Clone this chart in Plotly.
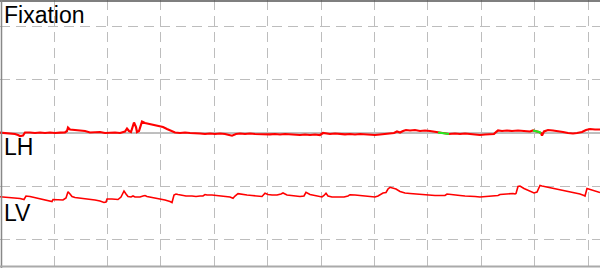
import plotly.graph_objects as go

# Horizontal eye position (LH) trace, x in samples (display units), y in display units (down = larger)
LH_x = [0, 5, 10, 15, 18, 20, 23, 25, 30, 35, 40, 45, 50, 55, 60, 65, 67, 68, 70, 75, 80, 85, 90, 95,
        100, 105, 110, 115, 120, 125, 127, 129, 131, 133, 134, 136, 137, 139, 141, 142, 145, 150, 155,
        160, 163, 167, 171, 175, 180, 185, 190, 195,
        200, 205, 210, 215, 220, 225, 228, 232, 236, 240, 245, 250, 255, 260, 265, 270, 275, 280, 285,
        290, 295, 300, 305, 310, 315, 320, 323, 327, 330, 335, 340, 345, 350, 355, 360, 365, 370, 375,
        380, 385, 390, 394, 397,
        400, 403, 406, 410, 415, 420, 425, 430, 435, 438, 442, 446, 449, 455, 460, 465, 470, 475, 480,
        485, 490, 494, 496, 498, 502, 507, 512, 518, 524, 530, 533, 536, 539, 541, 542, 544, 548, 553,
        558, 563, 568, 573, 577, 582, 586, 590, 595, 600]
LH_y = [132.7, 133, 133.5, 134, 135, 136, 135.5, 132.5, 132.5, 133, 132.5, 133, 132.5, 133, 132.7, 132.5,
        131, 127.5, 129.5, 130, 130.5, 131, 132.5, 132.5, 132, 133, 132.5, 132.5, 133, 131.5, 128.5, 131,
        132, 126, 122.5, 127, 132, 131, 125, 121.5, 123, 124, 125, 126, 127, 129, 131, 132.5, 133, 132.5,
        133, 133,
        133.5, 134, 133.5, 134, 133.5, 134, 135, 135.7, 134, 133.5, 134, 133.5, 134, 134.2, 133.8, 134.3,
        134, 134.5, 134, 134.5, 134.3, 135, 134.5, 135, 134.5, 135, 133, 133.5, 134, 133.5, 134, 134.3,
        134, 134.5, 134, 134.5, 134.3, 135, 134.5, 134, 133.5, 133, 131.5,
        132.5, 131, 130, 130.5, 130, 131, 130.5, 131, 132, 132.5, 133, 133.5, 134, 133.5, 134, 133.5, 134,
        134.5, 135, 134.5, 134, 134, 132, 130.5, 131, 130.5, 131, 130.5, 131, 131.5, 130.5, 131, 132,
        133, 135.5, 131.5, 130, 130.5, 131, 132, 133, 133.5, 133, 132, 130, 129, 129.5, 129.5]

# Samples flagged as fixation (drawn green)
FIX_ranges = [(438, 449), (533, 541)]

# Vertical eye position (LV) trace
LV_x = [0, 5, 10, 15, 20, 24, 25, 26, 30, 35, 40, 45, 50, 52, 53, 58, 63, 66, 68, 70, 72, 75, 80, 85,
        90, 95, 100, 104, 106, 107, 112, 118, 121, 124, 126, 128, 131, 133, 135, 140, 143, 145, 147,
        150, 155, 160, 165, 170, 172, 174, 176, 178, 182, 186, 192, 196,
        200, 203, 205, 207, 212, 218, 225, 230, 233, 235, 238, 242, 247, 252, 256, 260, 262, 265, 268,
        272, 277, 281, 283, 287, 292, 296, 300, 304, 306, 310, 315, 320, 322, 324, 326, 328, 332, 338,
        344, 348, 350, 355, 360, 365, 370, 375, 378, 381, 383, 386, 388, 390, 393, 396,
        400, 405, 410, 415, 420, 425, 430, 435, 440, 445, 447, 450, 455, 460, 465, 470, 475, 480, 485,
        490, 495, 498, 500, 505, 510, 513, 515, 516, 518, 520, 524, 528, 532, 534, 537, 540, 542, 547,
        553, 560, 568, 575, 580, 584, 585, 587, 590, 595, 600]
LV_y = [196.7, 197, 197.5, 198, 198.5, 199.5, 198, 196, 196.5, 197.5, 199, 200, 201, 201.5, 199.5, 199.5,
        200, 198, 191.7, 194, 196.5, 197.5, 198, 199, 199.5, 200, 201, 202.5, 202, 199, 199, 199.5, 197,
        191, 194, 196.5, 197, 196, 197, 197, 196, 195.5, 196.5, 197, 198, 199, 200, 201.5, 202.5, 195,
        194, 194.5, 195.5, 196, 196, 196.5,
        196, 196, 194.5, 195, 195, 195.5, 196, 197, 198.3, 196, 193.7, 194.5, 195, 195.5, 196, 197,
        196.5, 193.3, 194.5, 195, 195, 194, 193, 195, 195.5, 196, 196.5, 196, 192.3, 194.5, 195.5, 196.5,
        197, 195.5, 193.3, 196, 197, 197, 197, 196, 194.7, 195, 195.5, 196, 196.5, 197, 196, 194.5, 193,
        192.5, 189, 187.3, 188, 189,
        191.5, 193, 193.5, 194, 194.5, 195, 195.5, 195.5, 195.5, 195.5, 194, 194.5, 195, 195.5, 196, 196,
        196.5, 197, 196.5, 196.5, 196, 195.5, 194.5, 194, 194, 193.5, 194, 193.5, 186.5, 186, 188.5,
        190.5, 192.5, 193, 192, 185.5, 186, 187, 188, 189.5, 191, 192.5, 194, 195.5, 196, 188.5, 189.5,
        191, 192.5]

LABELS = ["Fixation", "LH", "LV"]
LABEL_Y = [0, 132, 198]

RED = "#ff0000"
GREEN = "#22ee22"

fig = go.Figure()
# LH baseline (solid gray)
fig.add_shape(type="line", xref="paper", x0=0, x1=1, yref="y", y0=133, y1=133,
              line=dict(color="#808080", width=1), layer="below")

fig.add_trace(go.Scatter(x=LH_x, y=LH_y, mode="lines", line=dict(color=RED, width=2.2),
                         hoverinfo="skip", showlegend=False))
for a, b in FIX_ranges:
    xs = [x for x in LH_x if a <= x <= b]
    ys = [y for x, y in zip(LH_x, LH_y) if a <= x <= b]
    fig.add_trace(go.Scatter(x=xs, y=ys, mode="lines", line=dict(color=GREEN, width=2.2),
                             hoverinfo="skip", showlegend=False))
fig.add_trace(go.Scatter(x=LV_x, y=LV_y, mode="lines", line=dict(color=RED, width=1.6),
                         hoverinfo="skip", showlegend=False))

for txt, yy in zip(LABELS, LABEL_Y):
    fig.add_annotation(x=2, y=yy, xref="x", yref="y", text=txt, showarrow=False,
                       xanchor="left", yanchor="top",
                       font=dict(family="Liberation Sans, Arial, sans-serif", size=23, color="#000"))

# frame
fig.add_shape(type="line", xref="paper", yref="paper", x0=0, x1=1, y0=0.9965, y1=0.9965,
              line=dict(color="#555555", width=1.5))
fig.add_shape(type="line", xref="paper", yref="paper", x0=0.0025, x1=0.0025, y0=0, y1=1,
              line=dict(color="#888888", width=1.5))
fig.add_shape(type="line", xref="paper", yref="paper", x0=0, x1=1, y0=0.006, y1=0.006,
              line=dict(color="#aaaaaa", width=2))

grid = dict(showgrid=True, gridcolor="#bdbdbd", gridwidth=1, griddash="10px,6px",
            showticklabels=False, zeroline=False, showline=False, ticks="")
fig.update_xaxes(range=[0, 600], tick0=54, dtick=53.4, **grid)
fig.update_yaxes(range=[268, 0], tick0=26.6, dtick=53.2, **grid)

fig.update_layout(width=600, height=268, margin=dict(l=0, r=0, t=0, b=0),
                  plot_bgcolor="white", paper_bgcolor="white")

fig.write_html("out.html")
